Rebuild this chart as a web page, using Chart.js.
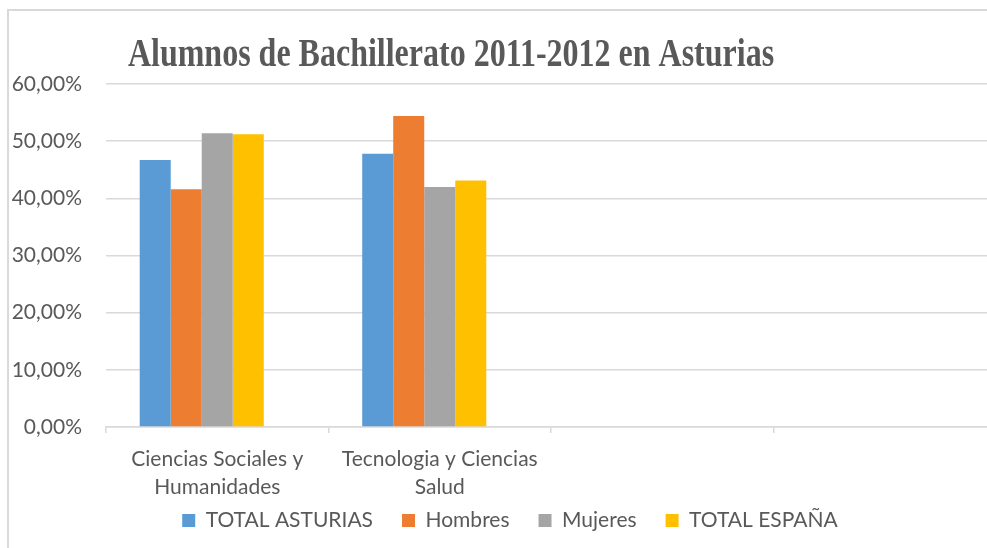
<!DOCTYPE html>
<html>
<head>
<meta charset="utf-8">
<script src="https://cdn.jsdelivr.net/npm/chart.js@4"></script>
<style>
  body { margin: 0; overflow: hidden; background: #fff; }
  #frame { position: absolute; left: 7px; top: 9px; width: 1100px; height: 700px;
           border-left: 2px solid #d9d9d9; border-top: 2px solid #d9d9d9; }
  #wrap { position: absolute; left: 0; top: 0; width: 1000px; height: 548px; }
</style>
</head>
<body>
<div id="frame"></div>
<div id="wrap"><canvas id="bachChart"></canvas></div>
<script>
// Data (percent)
const categories = [['Ciencias Sociales y', 'Humanidades'], ['Tecnologia y Ciencias', 'Salud'], '', ''];
const totalAsturias = [46.7, 47.8];
const hombres = [41.6, 54.4];
const mujeres = [51.4, 42.0];
const totalEspana = [51.2, 43.1];
const yMax = 60;
const yStep = 10;

const textColor = '#595959';
const gridColor = '#d9d9d9';
const bodyFont = 'Lato';

// Title is a tall, condensed Times; squeeze it horizontally and shift title / legend
const TITLE_CENTER = 451;
const TITLE_SQUEEZE = 0.8;
const LEGEND_CENTER = 510;
const LEGEND_HEIGHT = 40;
const LEGEND_TOP = 481;

const layoutTweaks = {
    id: 'layoutTweaks',
    afterInit(chart) {
        const lg = chart.legend;
        const fit = lg.fit.bind(lg);
        lg.fit = function () {
            fit();
            lg.height = LEGEND_HEIGHT;
        };
        const t = chart.titleBlock;
        const origDraw = t.draw.bind(t);
        t.draw = function (area) {
            const c = chart.ctx;
            const cx = (t.left + t.right) / 2;
            c.save();
            c.translate(cx, 0);
            c.scale(TITLE_SQUEEZE, 1);
            c.translate(-cx, 0);
            origDraw(area);
            c.restore();
        };
    },
    afterLayout(chart) {
        const t = chart.titleBlock;
        const dt = TITLE_CENTER - (t.left + t.right) / 2;
        t.left += dt;
        t.right += dt;
        const lg = chart.legend;
        const dl = LEGEND_CENTER - (lg.left + lg.right) / 2;
        lg.left += dl;
        lg.right += dl;
        lg.top = LEGEND_TOP;
        lg.bottom = LEGEND_TOP + 62;
    }
};

const ctx = document.getElementById('bachChart').getContext('2d');
const bachChart = new Chart(ctx, {
    type: 'bar',
    data: {
        labels: categories,
        datasets: [
            { label: 'TOTAL ASTURIAS', data: totalAsturias, backgroundColor: '#5b9bd5' },
            { label: 'Hombres', data: hombres, backgroundColor: '#ed7d31' },
            { label: 'Mujeres', data: mujeres, backgroundColor: '#a5a5a5' },
            { label: 'TOTAL ESPAÑA', data: totalEspana, backgroundColor: '#ffc000' },
            // empty fifth series that keeps its slot in each group
            { label: '', data: [], backgroundColor: '#4472c4' }
        ]
    },
    options: {
        responsive: true,
        maintainAspectRatio: false,
        animation: false,
        datasets: {
            bar: { barPercentage: 1, categoryPercentage: 0.697 }
        },
        layout: { padding: { left: 0, right: 4, top: 0, bottom: 7 } },
        plugins: {
            title: {
                display: true,
                text: 'Alumnos de Bachillerato 2011-2012 en Asturias',
                color: textColor,
                font: { family: 'Liberation Serif', size: 40, weight: 'bold', lineHeight: 1.2 },
                padding: { top: 32, bottom: 4 }
            },
            legend: {
                position: 'bottom',
                labels: {
                    color: textColor,
                    font: { family: bodyFont, size: 21 },
                    boxWidth: 13,
                    boxHeight: 13,
                    padding: 29,
                    filter: item => item.text !== ''
                }
            },
            tooltip: { enabled: false }
        },
        scales: {
            y: {
                min: 0,
                max: yMax,
                ticks: {
                    stepSize: yStep,
                    color: textColor,
                    font: { family: bodyFont, size: 21 },
                    padding: 24,
                    callback: v => v.toFixed(2).replace('.', ',') + '%'
                },
                grid: { color: gridColor, lineWidth: 1.5, drawTicks: false },
                border: { display: false },
                afterFit: scale => { scale.width = 106; }
            },
            x: {
                ticks: {
                    color: textColor,
                    font: { family: bodyFont, size: 21, lineHeight: 1.3 },
                    padding: 13,
                    maxRotation: 0,
                    autoSkip: false
                },
                grid: { drawOnChartArea: false, drawTicks: true, tickLength: 6, color: gridColor, lineWidth: 1.5 },
                border: { color: gridColor, width: 1.5 },
                afterFit: scale => { scale.height = 74; }
            }
        }
    },
    plugins: [layoutTweaks]
});
</script>
</body>
</html>
